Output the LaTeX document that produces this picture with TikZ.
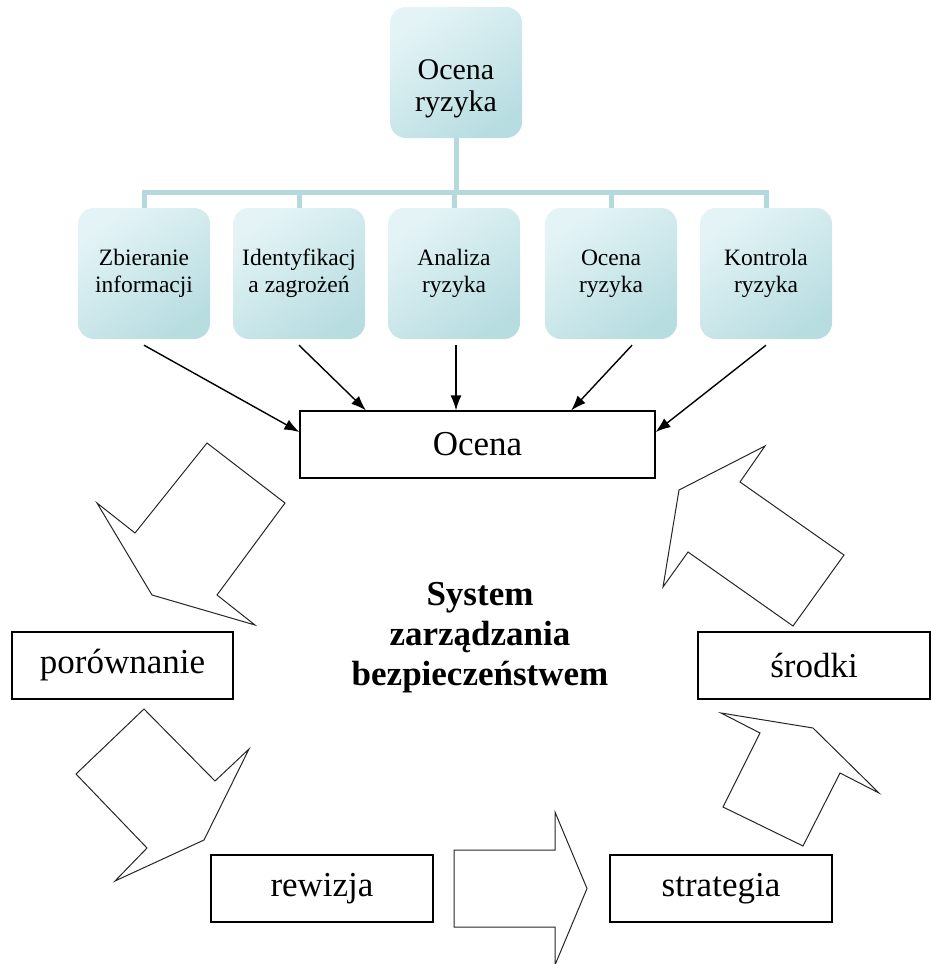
\documentclass[tikz,border=0pt]{standalone}
\usepackage{fontspec}
\setmainfont{Liberation Serif}
\usetikzlibrary{arrows.meta,positioning}

\definecolor{boxlight}{HTML}{E4F4F6}
\definecolor{boxdark}{HTML}{B8DDE1}
\definecolor{treeline}{HTML}{B4DADE}

\begin{document}
\begin{tikzpicture}[x=1pt,y=-1pt,
  stepbox/.style={rounded corners=16pt, minimum width=132pt, minimum height=131pt,
    top color=boxlight, bottom color=boxdark, shading angle=35, align=center,
    font=\fontsize{23.5}{27}\selectfont},
  tree/.style={treeline, line width=5pt},
  plainbox/.style={draw, line width=1.2pt, minimum width=222pt, minimum height=67pt,
    font=\fontsize{35}{40}\selectfont},
  link/.style={-{Latex[length=15pt,width=11pt]}, line width=1.4pt},
  blockarrow/.style={draw=black!85, line width=1pt, fill=white, line join=miter}]
\useasboundingbox (0,0) rectangle (931,964);

% Top box and the row below it
\node[stepbox, label={[font=\fontsize{30}{32}\selectfont, align=center, yshift=-16pt]center:Ocena\\ryzyka}] (top) at (456,72.5) {};
\foreach \i/\x/\t in {1/144/{Zbieranie\\informacji}, 2/299/{Identyfikacj\\a zagrożeń},
    3/454/{Analiza\\ryzyka}, 4/611/{Ocena\\ryzyka}, 5/766/{Kontrola\\ryzyka}}
  \node[stepbox] (b\i) at (\x,273.5) {\t};

\draw[tree] (top.south) -- ++(0,56);
\draw[tree] (b1.north) -- ++(0,-15) -| (b5.north);
\foreach \i in {2,3,4} \draw[tree] (b\i.north) -- ++(0,-15);

% Ocena
\node[plainbox, minimum width=355pt] (ocena) at (477.5,444.5) {Ocena};
\draw[link] ([yshift=-6pt]b1.south) -- (ocena.176);
\draw[link] ([yshift=-6pt]b2.south) -- (ocena.163);
\draw[link] ([xshift=2pt,yshift=-6pt]b3.south) -- ([xshift=2pt]b3.south |- ocena.north);
\draw[link] ([xshift=21pt,yshift=-6pt]b4.south) -- (ocena.20);
\draw[link] ([yshift=-6pt]b5.south) -- (ocena.4);

% Cycle boxes
\node[plainbox, minimum width=221pt] (por) at (122.5,665.5) {porównanie};
\node[plainbox, minimum width=232pt] (srodki) at (814,665.5) {środki};
\node[plainbox] (rew) at (322,888.5) {rewizja};
\node[plainbox] (strat) at (721,888.5) {strategia};

\node[font=\bfseries\fontsize{35}{40}\selectfont, align=center] (sys) at (480,638)
  {System\\zarządzania\\bezpieczeństwem};

% Block arrows
\draw[blockarrow] (207,443) -- (285,503) -- (217,595) -- (255,625) -- (152,595) -- (97,503) -- (135,533) -- cycle;
\draw[blockarrow] (144,709) -- (215,781) -- (249,749) -- (204,840) -- (115,881) -- (147,848) -- (76,774) -- cycle;
\draw[blockarrow] (454,850) -- (555,850) -- (555,812) -- (587,888.5) -- (555,965) -- (555,927) -- (454,927) -- cycle;
\draw[blockarrow] (721,713) -- (813,728) -- (879,793) -- (840,773) -- (803,846) -- (723,807) -- (760,733) -- cycle;
\draw[blockarrow] (765,446) -- (740,482) -- (844,555) -- (793,626) -- (688,552) -- (663,587) -- (679,490) -- cycle;
\end{tikzpicture}
\end{document}
